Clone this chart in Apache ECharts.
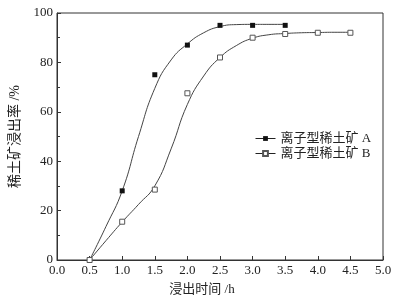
<!DOCTYPE html>
<html>
<head>
<meta charset="utf-8">
<script src="https://cdn.jsdelivr.net/npm/echarts@6/dist/echarts.min.js"></script>
<style>
  html, body { margin: 0; padding: 0; background: #fff; }
  #chart { width: 402px; height: 302px; }
</style>
</head>
<body>
<div id="chart"></div>
<script>
// measured points
const timeA = [0.5, 1.0, 1.5, 2.0, 2.5, 3.0, 3.5];
const rateA = [0, 28, 75, 87, 95, 95, 95];
const timeB = [0.5, 1.0, 1.5, 2.0, 2.5, 3.0, 3.5, 4.0, 4.5];
const rateB = [0, 15.5, 28.5, 67.5, 82, 90, 91.5, 92, 92];

// fitted curves, every 0.25 h
const fitTimeA = [0.5, 0.75, 1.0, 1.25, 1.5, 1.75, 2.0, 2.25, 2.5, 2.75, 3.0, 3.25, 3.5];
const fitRateA = [0, 13.5, 28, 50, 69.5, 81, 87.5, 92, 94.5, 95.3, 95.4, 95.4, 95.4];
const fitTimeB = [0.5, 0.75, 1.0, 1.25, 1.5, 1.75, 2.0, 2.25, 2.5, 2.75, 3.0, 3.25, 3.5, 3.75, 4.0, 4.25, 4.5];
const fitRateB = [0, 7.8, 15.4, 22.5, 30, 45, 63, 74.5, 82, 86.8, 89.8, 91.2, 91.7, 92, 92.1, 92.2, 92.2];

const nameA = "离子型稀土矿 A";
const nameB = "离子型稀土矿 B";

const serif = "Liberation Serif, Noto Sans CJK SC";
const pairs = (xs, ys) => xs.map((x, i) => [x, ys[i]]);

const chart = echarts.init(document.getElementById("chart"));

const option = {
  animation: false,
  grid: {
    left: 57, top: 13, right: 19, bottom: 42,
    show: true, borderColor: "#333", borderWidth: 1
  },
  legend: {
    orient: "vertical",
    left: 250, top: 127,
    itemWidth: 20, itemHeight: 6, itemGap: 2,
    textStyle: { fontFamily: serif, fontSize: 13, color: "#222" },
    lineStyle: { opacity: 1, color: "#222", width: 1 },
    data: [nameA, nameB]
  },
  xAxis: {
    type: "value",
    min: 0, max: 5, interval: 0.5,
    name: "浸出时间 /h",
    nameLocation: "middle",
    nameGap: 23,
    nameTextStyle: { fontFamily: serif, fontSize: 13, color: "#222", padding: [0, 36, 0, 0] },
    axisLine: { lineStyle: { color: "#333" } },
    axisTick: { inside: true, length: 4, lineStyle: { color: "#333" } },
    axisLabel: { fontFamily: serif, fontSize: 13, color: "#222", margin: 4,
      formatter: v => v.toFixed(1) },
    splitLine: { show: false }
  },
  yAxis: {
    type: "value",
    min: 0, max: 100, interval: 20,
    name: "稀土矿浸出率 /%",
    nameLocation: "middle",
    nameGap: 28,
    nameTextStyle: { fontFamily: serif, fontSize: 14, color: "#222" },
    axisLine: { show: true, lineStyle: { color: "#333" } },
    axisTick: { show: true, inside: true, length: 4, lineStyle: { color: "#333" } },
    minorTick: { show: true, splitNumber: 2, length: 3, lineStyle: { color: "#333" } },
    axisLabel: { fontFamily: serif, fontSize: 13, color: "#222", margin: 4 },
    splitLine: { show: false }
  },
  series: [
    {
      name: "fitA", type: "line", smooth: 0.5,
      showSymbol: false, silent: true,
      lineStyle: { color: "#444", width: 1 },
      data: pairs(fitTimeA, fitRateA), z: 1
    },
    {
      name: "fitB", type: "line", smooth: 0.5,
      showSymbol: false, silent: true,
      lineStyle: { color: "#444", width: 1 },
      data: pairs(fitTimeB, fitRateB), z: 1
    },
    {
      name: nameA, type: "line",
      symbol: "rect", symbolSize: 5,
      itemStyle: { color: "#111" },
      lineStyle: { opacity: 0 },
      data: pairs(timeA, rateA), z: 3
    },
    {
      name: nameB, type: "line",
      symbol: "rect", symbolSize: 5,
      itemStyle: { color: "#fff", borderColor: "#555", borderWidth: 1 },
      lineStyle: { opacity: 0 },
      data: pairs(timeB, rateB), z: 3
    }
  ]
};

chart.setOption(option);
</script>
</body>
</html>
